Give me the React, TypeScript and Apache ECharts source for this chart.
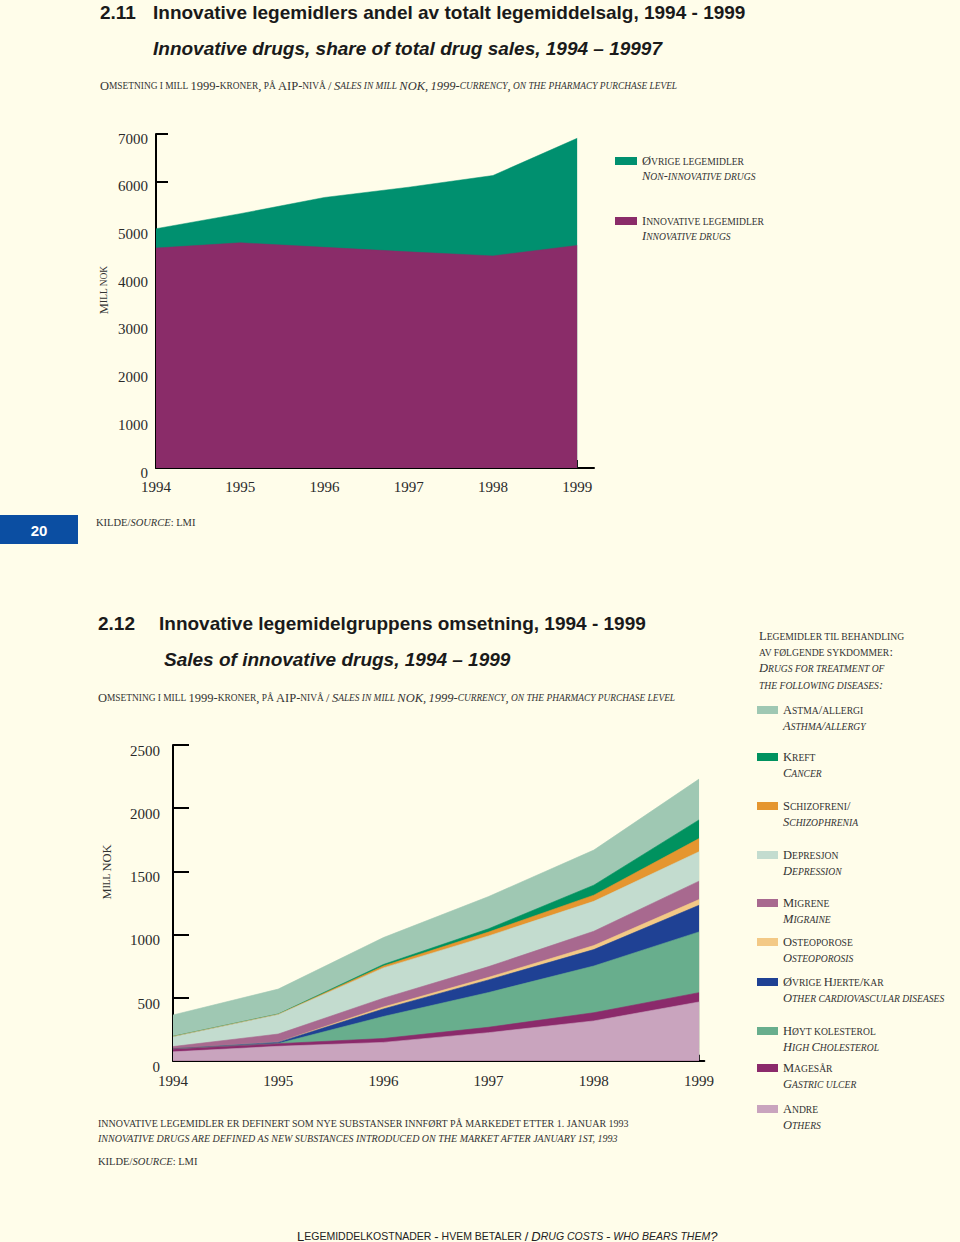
import React, { useEffect, useRef } from 'react';
import * as echarts from 'echarts';

// ---------- DATA ----------
const years = [1994, 1995, 1996, 1997, 1998, 1999];

// Figure 2.11 (mill NOK)
const innovativeSales = [4610, 4720, 4625, 4530, 4445, 4665];
const otherSales = [405, 610, 1045, 1355, 1685, 2245];
const topTicks = [0, 1000, 2000, 3000, 4000, 5000, 6000, 7000];

// Figure 2.12 (mill NOK), stacked bottom -> top
const andre = [70, 114, 145, 222, 315, 465];
const magesar = [25, 21, 31, 43, 65, 74];
const kolesterol = [0, 1, 174, 275, 370, 481];
const hjerteKar = [0, 10, 60, 100, 130, 211];
const osteoporose = [0, 1, 15, 20, 32, 45];
const migrene = [17, 64, 70, 85, 113, 146];
const depresjon = [78, 155, 240, 243, 237, 233];
const schizofreni = [2, 2, 15, 31, 49, 104];
const kreft = [1, 2, 12, 26, 79, 148];
const astma = [169, 197, 213, 255, 278, 323];
const bottomTicks = [0, 500, 1000, 1500, 2000, 2500];

const groupNo = ['Andre', 'Magesår', 'Høyt kolesterol', 'Øvrige Hjerte/kar', 'Osteoporose', 'Migrene', 'Depresjon', 'Schizofreni/', 'Kreft', 'Astma/allergi'];
const groupEn = ['Others', 'Gastric ulcer', 'High Cholesterol', 'Other cardiovascular diseases', 'Osteoporosis', 'Migraine', 'Depression', 'Schizophrenia', 'Cancer', 'Asthma/allergy'];
const groupValues = [andre, magesar, kolesterol, hjerteKar, osteoporose, migrene, depresjon, schizofreni, kreft, astma];

// ---------- STYLE ----------
const BG = '#FFFDEA';
const SERIF = "'Liberation Serif', 'Times New Roman', serif";
const SANS = "'Liberation Sans', Arial, sans-serif";
const INK = '#2a2a2a';
const topColors = { innovative: '#8A2C69', other: '#00906F' };
const groupColors = ['#C9A4BE', '#8B2A6B', '#68AE8D', '#1F4194', '#F3C986', '#A8698F', '#C3DCCF', '#E5962F', '#00925F', '#9FC8B3'];
const groupLegendCenters = [1109, 1068, 1031, 982, 942, 903, 855, 806, 757, 710];

// running totals of stacked layers (bottom -> top)
function cumulative(layers: number[][]): number[][] {
  const out: number[][] = [];
  let run = years.map(() => 0);
  layers.forEach((layer) => {
    run = run.map((v, i) => v + layer[i]);
    out.push(run.slice());
  });
  return out;
}

function sc(s: string, italic = false): string {
  const big = italic ? 'I' : 'R';
  const small = italic ? 'i' : 'r';
  let out = '';
  let cur = '';
  let curStyle = '';
  for (const ch of s) {
    const lower = ch !== ch.toUpperCase();
    const st = lower || ch === ' ' ? small : big;
    const c = lower ? ch.toUpperCase() : ch;
    if (st !== curStyle && cur) {
      out += `{${curStyle}|${cur}}`;
      cur = '';
    }
    curStyle = st;
    cur += c;
  }
  if (cur) out += `{${curStyle}|${cur}}`;
  return out;
}

function richSet(family: string, big: number, small: number, color: string, lh: number, weight: string = 'normal') {
  const mk = (size: number, italic: boolean) => ({
    fontFamily: family,
    fontSize: size,
    fontStyle: italic ? 'italic' : 'normal',
    fontWeight: weight,
    color,
    fill: color,
    lineHeight: lh,
  });
  return { R: mk(big, false), r: mk(small, false), I: mk(big, true), i: mk(small, true) };
}

function gText(x: number, y: number, text: string, rich: any, extra: any = {}) {
  return {
    type: 'text',
    x,
    y,
    silent: true,
    ...extra,
    style: {
      text,
      rich,
      align: extra.align || 'left',
      textAlign: extra.align || 'left',
      verticalAlign: 'middle',
      textVerticalAlign: 'middle',
    },
  };
}

function plainText(x: number, y: number, text: string, font: any, extra: any = {}) {
  return {
    type: 'text',
    x,
    y,
    silent: true,
    ...extra,
    style: {
      text,
      fill: font.color || INK,
      fontFamily: font.family,
      fontSize: font.size,
      fontWeight: font.weight || 'normal',
      fontStyle: font.style || 'normal',
      align: extra.align || 'left',
      textAlign: extra.align || 'left',
      verticalAlign: 'middle',
      textVerticalAlign: 'middle',
    },
  };
}

function areaSeries(name: string, values: number[], color: string, axis: number, lw: number) {
  return {
    type: 'line',
    name,
    xAxisIndex: axis,
    yAxisIndex: axis,
    data: years.map((y, i) => [y, values[i]]),
    symbol: 'none',
    silent: true,
    lineStyle: { width: lw, color },
    itemStyle: { color },
    areaStyle: { color, opacity: 1, origin: 'start' },
  };
}

function buildOption() {
  const scRich = richSet(SERIF, 12.5, 9.4, '#333', 14);
  const legRich = richSet(SERIF, 12.5, 9.6, '#333', 16);
  const legRichTop = richSet(SERIF, 12.5, 9.6, '#333', 15);
  const srcRich = richSet(SERIF, 10.5, 10.5, '#333', 13);
  const footRich = richSet(SANS, 13, 10.5, '#222', 14);
  const titleFont = { family: SANS, size: 19, weight: 'bold', color: '#1a1a1a' };
  const titleItFont = { ...titleFont, style: 'italic' };

  const xLabel = (margin: number) => ({
    fontFamily: SERIF,
    fontSize: 15,
    color: INK,
    margin,
    customValues: years,
    formatter: (v: number) => String(v),
  });
  const yLabel = (margin: number, lh: number) => ({
    fontFamily: SERIF,
    fontSize: 15,
    color: INK,
    margin,
    verticalAlign: 'top',
    lineHeight: lh,
    formatter: (v: number) => String(v),
  });
  const blackLine = { color: '#000', width: 2 };

  const labelMap: Record<string, string> = {
    'Øvrige legemidler': sc('Øvrige legemidler') + '\n' + sc('Non-innovative drugs', true),
    'Innovative legemidler': sc('Innovative legemidler') + '\n' + sc('Innovative drugs', true),
  };
  groupNo.forEach((n, i) => {
    labelMap[n] = sc(n) + '\n' + sc(groupEn[i], true);
  });

  const topCum = cumulative([innovativeSales, otherSales]);
  const groupCum = cumulative(groupValues);

  const series: any[] = [];
  // draw upper layers first, lower layers over them
  series.push(areaSeries('Øvrige legemidler', topCum[1], topColors.other, 0, 0.5));
  series.push(areaSeries('Innovative legemidler', topCum[0], topColors.innovative, 0, 0.5));
  for (let gi = groupNo.length - 1; gi >= 0; gi--) {
    series.push(areaSeries(groupNo[gi], groupCum[gi], groupColors[gi], 1, 0.6));
  }

  const legends: any[] = [
    {
      left: 615, top: 138.5, orient: 'vertical', padding: 0, itemGap: 15,
      itemWidth: 22, itemHeight: 8, icon: 'rect', selectedMode: false,
      data: ['Øvrige legemidler', 'Innovative legemidler'],
      formatter: (n: string) => labelMap[n],
      itemStyle: { borderWidth: 0 },
      textStyle: { rich: legRichTop, padding: [15, 0, 0, 0], lineHeight: 15 },
    },
  ];
  groupNo.forEach((n, gi) => {
    legends.push({
      left: 757, top: groupLegendCenters[gi] - 24, orient: 'vertical', padding: 0,
      itemWidth: 21, itemHeight: 8, icon: 'rect', selectedMode: false,
      data: [n],
      formatter: (nm: string) => labelMap[nm],
      itemStyle: { borderWidth: 0 },
      textStyle: { rich: legRich, padding: [16, 0, 0, 0], lineHeight: 16 },
    });
  });

  const subtitle = sc('Omsetning i mill 1999-kroner, på AIP-nivå / ') + sc('Sales in mill NOK, 1999-currency, on the pharmacy purchase level', true);

  const graphic: any[] = [
    plainText(100, 12, '2.11', titleFont),
    plainText(153, 12, 'Innovative legemidlers andel av totalt legemiddelsalg, 1994 - 1999', titleFont),
    plainText(153, 48, 'Innovative drugs, share of total drug sales, 1994 – 19997', titleItFont),
    gText(100, 86, subtitle, scRich),
    gText(104, 290, sc('Mill nok'), scRich, { align: 'center', rotation: Math.PI / 2 }),
    { type: 'rect', shape: { x: 0, y: 515, width: 78, height: 29 }, style: { fill: '#0B4EA2' }, silent: true },
    plainText(39, 530, '20', { family: SANS, size: 15, weight: 'bold', color: '#ffffff' }, { align: 'center' }),
    gText(96, 522, '{R|KILDE/}{I|SOURCE}{R|: LMI}', srcRich),

    plainText(98, 623, '2.12', titleFont),
    plainText(159, 623, 'Innovative legemidelgruppens omsetning, 1994 - 1999', titleFont),
    plainText(164, 659, 'Sales of innovative drugs, 1994 – 1999', titleItFont),
    gText(98, 698, subtitle, scRich),
    gText(107, 872, sc('Mill NOK'), scRich, { align: 'center', rotation: Math.PI / 2 }),

    gText(759, 636, sc('Legemidler til behandling'), legRich),
    gText(759, 652, sc('av følgende sykdommer:'), legRich),
    gText(759, 668, sc('Drugs for treatment of', true), legRich),
    gText(759, 685, sc('the following diseases:', true), legRich),

    plainText(98, 1123, 'INNOVATIVE LEGEMIDLER ER DEFINERT SOM NYE SUBSTANSER INNFØRT PÅ MARKEDET ETTER 1. JANUAR 1993', { family: SERIF, size: 10, color: '#333' }),
    plainText(98, 1138, 'INNOVATIVE DRUGS ARE DEFINED AS NEW SUBSTANCES INTRODUCED ON THE MARKET AFTER JANUARY 1ST, 1993', { family: SERIF, size: 10, color: '#333', style: 'italic' }),
    gText(98, 1161, '{R|KILDE/}{I|SOURCE}{R|: LMI}', srcRich),
    gText(297, 1236, sc('Legemiddelkostnader - hvem betaler / ') + sc('Drug costs - who bears them?', true), footRich),
  ];

  return {
    animation: false,
    backgroundColor: BG,
    grid: [
      { left: 156, top: 134, width: 438, height: 334 },
      { left: 173, top: 745, width: 531.3, height: 315.7 },
    ],
    xAxis: [
      {
        type: 'value', gridIndex: 0, min: 1994, max: 1999.2, interval: 1,
        axisLine: { show: true, lineStyle: blackLine },
        axisTick: { show: true, inside: true, length: 8, lineStyle: blackLine, customValues: [1999] },
        axisLabel: xLabel(11),
        splitLine: { show: false },
      },
      {
        type: 'value', gridIndex: 1, min: 1994, max: 1999.05, interval: 1,
        axisLine: { show: true, lineStyle: blackLine },
        axisTick: { show: true, inside: true, length: 6, lineStyle: blackLine, customValues: [1999] },
        axisLabel: xLabel(13),
        splitLine: { show: false },
      },
    ],
    yAxis: [
      {
        type: 'value', gridIndex: 0, min: topTicks[0], max: topTicks[topTicks.length - 1], interval: 1000,
        axisLine: { show: true, lineStyle: blackLine },
        axisTick: { show: true, inside: true, length: 12, lineStyle: blackLine },
        axisLabel: yLabel(8, 9),
        splitLine: { show: false },
      },
      {
        type: 'value', gridIndex: 1, min: bottomTicks[0], max: bottomTicks[bottomTicks.length - 1], interval: 500,
        axisLine: { show: true, lineStyle: blackLine },
        axisTick: { show: true, inside: true, length: 16, lineStyle: blackLine },
        axisLabel: yLabel(13, 12),
        splitLine: { show: false },
      },
    ],
    legend: legends,
    series,
    graphic,
  };
}

export default function App() {
  const ref = useRef<HTMLDivElement>(null);
  useEffect(() => {
    if (!ref.current) return;
    const chart = echarts.init(ref.current, null, { renderer: 'svg' });
    chart.setOption(buildOption() as any);
    return () => chart.dispose();
  }, []);
  return (
    <div
      ref={ref}
      style={{ position: 'absolute', left: 0, top: 0, width: 960, height: 1242, background: BG }}
    />
  );
}
